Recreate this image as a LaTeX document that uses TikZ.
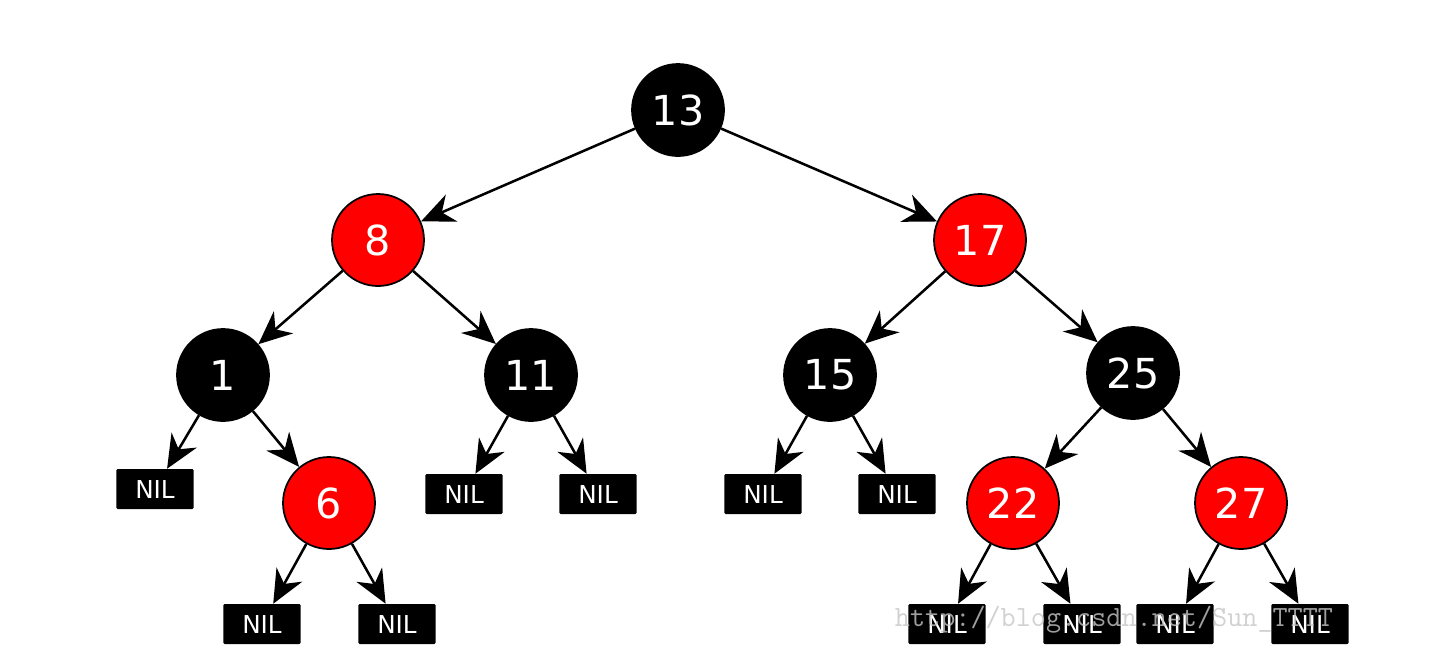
\documentclass[tikz,border=0pt]{standalone}
\usepackage{fontspec}
\setmainfont{DejaVu Sans}
\usetikzlibrary{arrows.meta}

\tikzset{
  blk/.style={circle, fill=black, draw=black, line width=1.3pt, minimum size=69pt,
    inner sep=0pt, text=white, font=\fontsize{31}{31}\selectfont},
  rd/.style={blk, fill=red},
  nil/.style={rectangle, rounded corners=1pt, fill=black, text=white,
    minimum width=58pt, minimum height=30pt, inner sep=0pt,
    font=\fontsize{18.5}{18.5}\selectfont},
  edge/.style={-{Stealth[length=25pt, width=22pt, inset=8pt]}, line width=1.9pt}
}

\begin{document}
\begin{tikzpicture}[x=0.75pt, y=-0.75pt]
\useasboundingbox (0,0) rectangle (1433,669);
% inner nodes
\node[blk] (n13) at (678,110) {13};
\node[rd]  (n8)  at (378,240) {8};
\node[rd]  (n17) at (980,240) {17};
\node[blk] (n1)  at (223,375) {1};
\node[blk] (n11) at (531,375) {11};
\node[blk] (n15) at (830,375) {15};
\node[blk] (n25) at (1133,373) {25};
\node[rd]  (n6)  at (329,503) {6};
\node[rd]  (n22) at (1013,503) {22};
\node[rd]  (n27) at (1241,503) {27};
% leaves
\foreach \nm/\x/\y in {l1/155/489, l6a/262/624, l6b/397/624, l11a/464/494, l11b/598/494,
    l15a/763/494, l15b/897/494, l22a/947/624, l22b/1082/624, l27a/1175/624, l27b/1310/624}
  \node[nil] (\nm) at (\x,\y) {NIL};
% edges
\foreach \a/\b in {n13/n8, n13/n17, n8/n1, n8/n11, n17/n15, n17/n25, n1/l1, n1/n6,
    n6/l6a, n6/l6b, n11/l11a, n11/l11b, n15/l15a, n15/l15b, n25/n22, n25/n27,
    n22/l22a, n22/l22b, n27/l27a, n27/l27b}
  \draw[edge] (\a) -- (\b);
% watermark
\node[text=gray!45, opacity=0.8, font=\ttfamily\fontsize{22}{22}\selectfont] (mark)
  at (1114,620) {http://blog.csdn.net/Sun\_TTTT};
\end{tikzpicture}
\end{document}
